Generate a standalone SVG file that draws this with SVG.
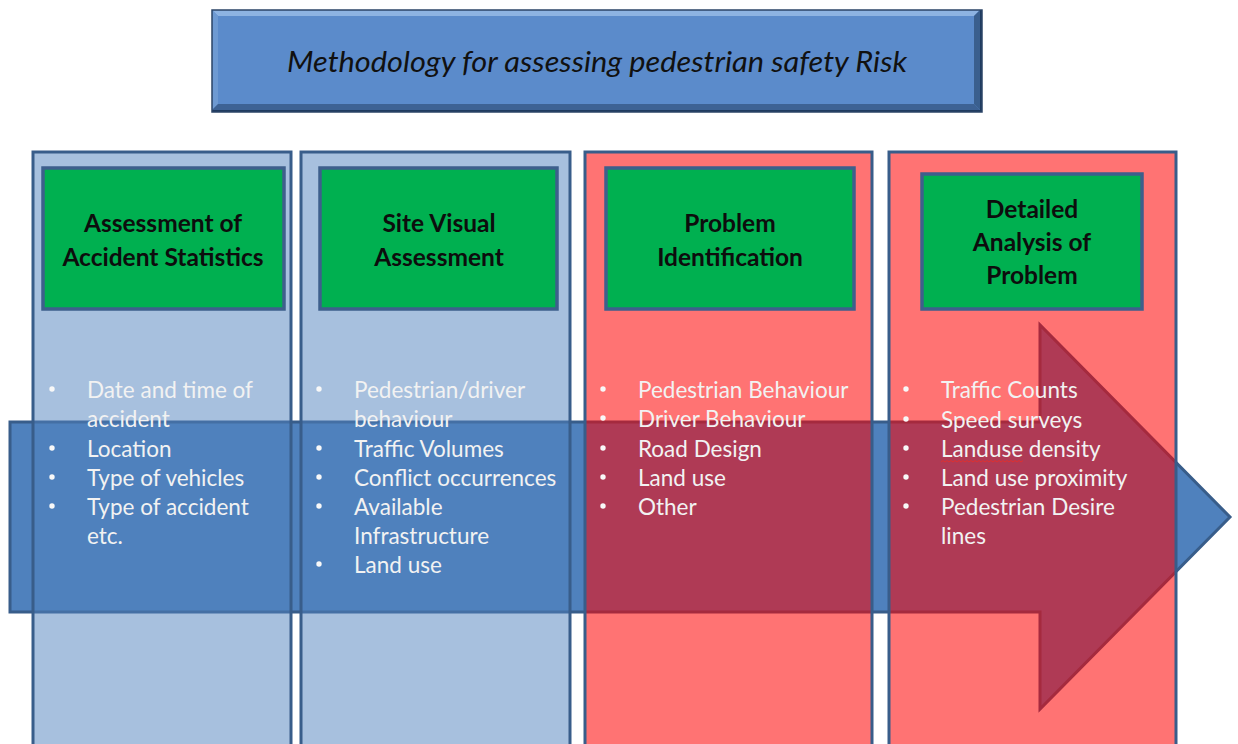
<svg xmlns="http://www.w3.org/2000/svg" width="1238" height="744" viewBox="0 0 1238 744">
  <style>
    .colB { fill: #4F81BD; fill-opacity: 0.5; stroke: #385D8A; stroke-width: 3; }
    .colR { fill: #FF0000; fill-opacity: 0.55; stroke: #385D8A; stroke-width: 3; }
    .head { fill: #00B050; stroke: #3E5F8C; stroke-width: 3.5; }
    .ht { font-family: Lato, "Liberation Sans", sans-serif; font-weight: bold; font-size: 24.5px; fill: #0D0D0D; text-anchor: middle; }
    .bt { font-family: Lato, "Liberation Sans", sans-serif; font-size: 22.5px; fill: #F2F2F2; }
    .dot { fill: #F8F8F8; }
    .title { font-family: Lato, "Liberation Sans", sans-serif; font-style: italic; font-size: 29px; fill: #111111; text-anchor: middle; }
  </style>

  <!-- Title -->
  <g id="title">
    <rect x="212" y="10" width="770" height="102" fill="#1F3A5F"/>
    <rect x="212" y="10" width="768" height="100" fill="#5B8BCB"/>
    <polygon points="212,10 980,10 974,16 218,16" fill="#8DB3E2"/>
    <polygon points="212,10 218,16 218,104 212,110" fill="#6E9AD2"/>
    <polygon points="980,10 980,110 974,104 974,16" fill="#3A5F8E"/>
    <polygon points="212,110 980,110 974,104 218,104" fill="#3D6294"/>
    <rect x="212" y="10" width="770" height="102" fill="none" stroke="#2B4467" stroke-width="1.5"/>
    <text class="title" x="597" y="72" textLength="620" lengthAdjust="spacingAndGlyphs">Methodology for assessing pedestrian safety Risk</text>
  </g>

  <!-- Flow arrow (connector) -->
  <g id="connectors">
    <polygon points="10,422 1040,422 1040,325 1230,517 1040,709 1040,612 10,612" fill="#4F81BD" stroke="#385D8A" stroke-width="3" stroke-linejoin="miter"/>
  </g>

  <!-- Column 1 -->
  <g id="col1">
    <rect class="colB" x="33" y="152" width="258" height="600"/>
    <rect class="head" x="43" y="168" width="241" height="141"/>
    <text class="ht" x="163" y="232">Assessment of</text>
    <text class="ht" x="163" y="266">Accident Statistics</text>
    <circle class="dot" cx="52" cy="389" r="2.7"/>
    <circle class="dot" cx="52" cy="448" r="2.7"/>
    <circle class="dot" cx="52" cy="477" r="2.7"/>
    <circle class="dot" cx="52" cy="506" r="2.7"/>
    <text class="bt" x="87" y="398">Date and time of</text>
    <text class="bt" x="87" y="427">accident</text>
    <text class="bt" x="87" y="457">Location</text>
    <text class="bt" x="87" y="486">Type of vehicles</text>
    <text class="bt" x="87" y="515">Type of accident</text>
    <text class="bt" x="87" y="544">etc.</text>
  </g>

  <!-- Column 2 -->
  <g id="col2">
    <rect class="colB" x="301" y="152" width="269" height="600"/>
    <rect class="head" x="320" y="168" width="237" height="141"/>
    <text class="ht" x="439" y="232">Site Visual</text>
    <text class="ht" x="439" y="266">Assessment</text>
    <circle class="dot" cx="319" cy="389" r="2.7"/>
    <circle class="dot" cx="319" cy="448" r="2.7"/>
    <circle class="dot" cx="319" cy="477" r="2.7"/>
    <circle class="dot" cx="319" cy="506" r="2.7"/>
    <circle class="dot" cx="319" cy="564" r="2.7"/>
    <text class="bt" x="354" y="398">Pedestrian/driver</text>
    <text class="bt" x="354" y="427">behaviour</text>
    <text class="bt" x="354" y="457">Traffic Volumes</text>
    <text class="bt" x="354" y="486">Conflict occurrences</text>
    <text class="bt" x="354" y="515">Available</text>
    <text class="bt" x="354" y="544">Infrastructure</text>
    <text class="bt" x="354" y="573">Land use</text>
  </g>

  <!-- Column 3 -->
  <g id="col3">
    <rect class="colR" x="585" y="152" width="287" height="600"/>
    <rect class="head" x="606" y="168" width="248" height="141"/>
    <text class="ht" x="730" y="232">Problem</text>
    <text class="ht" x="730" y="266">Identification</text>
    <circle class="dot" cx="603" cy="389" r="2.7"/>
    <circle class="dot" cx="603" cy="418" r="2.7"/>
    <circle class="dot" cx="603" cy="448" r="2.7"/>
    <circle class="dot" cx="603" cy="477" r="2.7"/>
    <circle class="dot" cx="603" cy="506" r="2.7"/>
    <text class="bt" x="638" y="398">Pedestrian Behaviour</text>
    <text class="bt" x="638" y="427">Driver Behaviour</text>
    <text class="bt" x="638" y="457">Road Design</text>
    <text class="bt" x="638" y="486">Land use</text>
    <text class="bt" x="638" y="515">Other</text>
  </g>

  <!-- Column 4 -->
  <g id="col4">
    <rect class="colR" x="889" y="152" width="287" height="600"/>
    <rect class="head" x="922" y="174" width="220" height="135"/>
    <text class="ht" x="1032" y="218">Detailed</text>
    <text class="ht" x="1032" y="251">Analysis of</text>
    <text class="ht" x="1032" y="284">Problem</text>
    <circle class="dot" cx="906" cy="389" r="2.7"/>
    <circle class="dot" cx="906" cy="419" r="2.7"/>
    <circle class="dot" cx="906" cy="448" r="2.7"/>
    <circle class="dot" cx="906" cy="477" r="2.7"/>
    <circle class="dot" cx="906" cy="506" r="2.7"/>
    <text class="bt" x="941" y="398">Traffic Counts</text>
    <text class="bt" x="941" y="428">Speed surveys</text>
    <text class="bt" x="941" y="457">Landuse density</text>
    <text class="bt" x="941" y="486">Land use proximity</text>
    <text class="bt" x="941" y="515">Pedestrian Desire</text>
    <text class="bt" x="941" y="544">lines</text>
    <path d="M941,462 l2,-1.5 l2,1.5 l2,-1.5 l2,1.5 l2,-1.5 l2,1.5 l2,-1.5 l2,1.5 l2,-1.5 l2,1.5 l2,-1.5 l2,1.5 l2,-1.5 l2,1.5 l2,-1.5 l2,1.5 l2,-1.5 l2,1.5 l2,-1.5 l2,1.5 l2,-1.5 l2,1.5 l2,-1.5 l2,1.5 l2,-1.5 l2,1.5 l2,-1.5 l2,1.5 l2,-1.5 l2,1.5 l2,-1.5 l2,1.5 l2,-1.5 l2,1.5 l2,-1.5 l2,1.5 l2,-1.5 l2,1.5 l2,-1.5 l2,1.5 l2,-1.5" fill="none" stroke="#E03030" stroke-width="1"/>
  </g>
</svg>
